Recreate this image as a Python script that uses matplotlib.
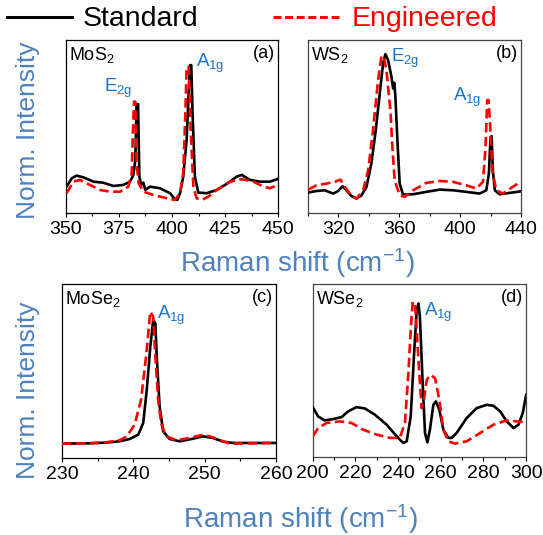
import matplotlib
matplotlib.use("Agg")
import matplotlib.pyplot as plt
from matplotlib.lines import Line2D

plt.rcParams['font.family'] = ['Liberation Sans', 'DejaVu Sans']
plt.rcParams['mathtext.fontset'] = 'custom'
plt.rcParams['mathtext.rm'] = 'Liberation Sans'
plt.rcParams['mathtext.it'] = 'Liberation Sans'

# (a) MoS2
mos2_x_std = [350.3, 352.7, 355.0, 358.2, 362.9, 367.6, 372.3, 377.0, 380.2, 381.8, 382.7, 383.3,
              384.0, 384.6, 385.5, 386.5, 387.4, 389.6, 394.3, 399.1, 401.4, 402.5, 403.8, 405.3,
              406.9, 407.9, 408.5, 409.1, 409.7, 410.8, 412.4, 416.4, 421.1, 425.8, 430.5, 432.9,
              436.8, 441.5, 446.2, 450.0]
mos2_y_std = [0.152, 0.200, 0.216, 0.206, 0.181, 0.175, 0.156, 0.162, 0.181, 0.220, 0.306, 0.630,
              0.630, 0.210, 0.162, 0.175, 0.133, 0.152, 0.143, 0.114, 0.079, 0.075, 0.114, 0.210,
              0.422, 0.711, 0.855, 0.855, 0.576, 0.210, 0.118, 0.114, 0.133, 0.168, 0.210, 0.220,
              0.191, 0.181, 0.181, 0.197]
mos2_x_eng = [350.3, 353.5, 356.6, 361.3, 366.0, 370.8, 375.5, 379.4, 381.0, 381.6, 382.1, 382.7,
              383.3, 384.3, 386.5, 391.2, 397.5, 401.4, 403.8, 405.3, 406.3, 406.9, 407.9, 408.8,
              410.1, 411.6, 414.0, 417.1, 421.1, 427.4, 432.9, 438.4, 443.1, 446.2, 450.0]
mos2_y_eng = [0.114, 0.181, 0.191, 0.162, 0.133, 0.123, 0.123, 0.152, 0.229, 0.480, 0.644, 0.644,
              0.287, 0.171, 0.123, 0.104, 0.085, 0.075, 0.114, 0.229, 0.576, 0.846, 0.846, 0.480,
              0.152, 0.085, 0.075, 0.094, 0.133, 0.181, 0.195, 0.181, 0.152, 0.143, 0.162]

# (b) WS2
ws2_x_std = [300.2, 305.7, 311.1, 316.6, 319.9, 322.7, 325.4, 328.6, 331.9, 335.2, 338.5, 341.7,
             344.6, 347.2, 349.4, 350.9, 352.7, 354.9, 356.0, 356.8, 357.5, 358.8, 360.3, 362.5,
             369.1, 377.8, 386.6, 395.3, 404.0, 412.8, 417.2, 418.9, 420.0, 420.7, 421.5, 422.8,
             425.9, 432.5, 439.8]
ws2_y_std = [0.118, 0.127, 0.131, 0.112, 0.127, 0.154, 0.131, 0.098, 0.083, 0.102, 0.151, 0.286,
             0.479, 0.691, 0.865, 0.919, 0.884, 0.788, 0.720, 0.753, 0.672, 0.421, 0.170, 0.106,
             0.108, 0.122, 0.135, 0.131, 0.122, 0.112, 0.131, 0.228, 0.440, 0.444, 0.247, 0.131,
             0.108, 0.116, 0.125]
ws2_x_eng = [300.2, 305.7, 312.2, 317.7, 321.4, 324.3, 328.6, 331.9, 336.3, 339.6, 342.8, 346.1,
             348.3, 349.8, 351.6, 353.3, 354.2, 355.5, 357.0, 360.3, 363.6, 369.1, 377.8, 386.6,
             395.3, 404.0, 410.6, 415.0, 416.7, 417.8, 418.7, 419.8, 421.1, 423.7, 428.1, 434.6,
             439.8]
ws2_y_eng = [0.135, 0.160, 0.170, 0.180, 0.193, 0.151, 0.098, 0.083, 0.131, 0.247, 0.479, 0.768,
             0.907, 0.907, 0.826, 0.672, 0.595, 0.382, 0.189, 0.102, 0.093, 0.131, 0.174, 0.185,
             0.180, 0.160, 0.141, 0.180, 0.382, 0.653, 0.653, 0.498, 0.247, 0.131, 0.112, 0.151,
             0.180]

# (c) MoSe2
mose2_x_std = [230.0, 233.9, 236.2, 238.1, 239.5, 240.7, 241.4, 241.9, 242.4, 242.8, 243.1, 243.3,
               243.7, 244.2, 245.1, 246.5, 248.4, 249.8, 251.2, 252.6, 254.0, 257.3, 260.0]
mose2_y_std = [0.087, 0.089, 0.093, 0.101, 0.115, 0.141, 0.212, 0.413, 0.675, 0.837, 0.817, 0.615,
               0.313, 0.161, 0.115, 0.101, 0.117, 0.131, 0.121, 0.099, 0.091, 0.091, 0.091]
mose2_x_eng = [230.0, 233.9, 236.2, 238.1, 239.1, 240.2, 241.1, 241.8, 242.4, 242.8, 243.1, 243.5,
               243.9, 244.6, 246.1, 247.9, 249.8, 251.2, 252.6, 253.5, 257.3, 260.0]
mose2_y_eng = [0.087, 0.089, 0.095, 0.107, 0.131, 0.202, 0.353, 0.615, 0.887, 0.857, 0.615, 0.353,
               0.212, 0.131, 0.107, 0.121, 0.141, 0.125, 0.101, 0.087, 0.089, 0.091]

# (d) WSe2
wse2_x_std = [200.0, 202.5, 205.6, 209.5, 213.5, 216.6, 220.5, 224.4, 229.1, 234.6, 239.3, 242.4,
              244.0, 245.9, 247.4, 248.7, 249.5, 250.2, 251.5, 252.6, 253.7, 254.9, 256.5, 257.7,
              259.3, 261.2, 263.5, 265.1, 267.4, 272.1, 276.8, 281.5, 284.7, 287.8, 290.9, 294.1,
              296.4, 298.4, 300.0]
wse2_y_std = [0.304, 0.247, 0.223, 0.231, 0.243, 0.278, 0.304, 0.296, 0.258, 0.197, 0.126, 0.085,
              0.095, 0.247, 0.613, 0.897, 0.937, 0.856, 0.450, 0.146, 0.089, 0.166, 0.318, 0.339,
              0.288, 0.166, 0.116, 0.116, 0.146, 0.237, 0.298, 0.318, 0.312, 0.278, 0.217, 0.176,
              0.197, 0.268, 0.379]
wse2_x_eng = [200.0, 202.5, 206.4, 212.7, 218.2, 223.6, 229.9, 236.2, 240.8, 243.2, 244.8, 245.9,
              246.8, 247.9, 248.7, 249.9, 251.0, 252.1, 253.4, 255.2, 257.3, 259.3, 261.2, 263.5,
              266.7, 272.1, 278.4, 284.7, 290.9, 295.6, 300.0]
wse2_y_eng = [0.126, 0.176, 0.207, 0.217, 0.207, 0.166, 0.136, 0.116, 0.116, 0.207, 0.511, 0.775,
              0.947, 0.937, 0.775, 0.511, 0.298, 0.349, 0.471, 0.501, 0.481, 0.349, 0.166, 0.095,
              0.081, 0.095, 0.146, 0.197, 0.223, 0.217, 0.211]

blue = '#1b74c5'
label_blue = '#4f81bd'

fig = plt.figure(figsize=(5.43, 5.35), dpi=100)

panels = [
    dict(rect=[0.1215, 0.602, 0.3905, 0.323], xs=mos2_x_std, ys=mos2_y_std, xe=mos2_x_eng, ye=mos2_y_eng,
         xlim=(350, 450), ylim=(0, 1.0), major=25, minor=12.5, name='MoS$_2$', tag='(a)', edge='black',
         peaks=[('E$_{2g}$', 0.180, 0.655), ('A$_{1g}$', 0.615, 0.80)]),
    dict(rect=[0.567, 0.602, 0.3925, 0.323], xs=ws2_x_std, ys=ws2_y_std, xe=ws2_x_eng, ye=ws2_y_eng,
         xlim=(300, 440), ylim=(0, 1.0), major=40, minor=20, name='WS$_2$', tag='(b)', edge='#444444',
         peaks=[('E$_{2g}$', 0.392, 0.825), ('A$_{1g}$', 0.680, 0.60)]),
    dict(rect=[0.114, 0.144, 0.394, 0.325], xs=mose2_x_std, ys=mose2_y_std, xe=mose2_x_eng, ye=mose2_y_eng,
         xlim=(230, 260), ylim=(0, 1.054), major=10, minor=5, name='MoSe$_2$', tag='(c)', edge='black',
         peaks=[('A$_{1g}$', 0.444, 0.755)]),
    dict(rect=[0.576, 0.146, 0.393, 0.324], xs=wse2_x_std, ys=wse2_y_std, xe=wse2_x_eng, ye=wse2_y_eng,
         xlim=(200, 300), ylim=(0, 1.059), major=20, minor=10, name='WSe$_2$', tag='(d)', edge='#444444',
         peaks=[('A$_{1g}$', 0.52, 0.765)]),
]

for p in panels:
    ax = fig.add_axes(p['rect'])
    ax.plot(p['xs'], p['ys'], color='black', lw=1.9, zorder=3)
    ax.plot(p['xe'], p['ye'], color='#ff0000', lw=1.9, ls=(0, (3.6, 1.7)), zorder=4)
    ax.set_xlim(*p['xlim'])
    ax.set_ylim(*p['ylim'])
    ax.set_yticks([])
    lo, hi = p['xlim']
    majors = list(range(lo, hi + 1, p['major']))
    if p['tag'] == '(b)':
        majors = [320, 360, 400, 440]
    ax.set_xticks(majors)
    minors = []
    v = lo
    while v <= hi:
        if v not in majors:
            minors.append(v)
        v += p['minor']
    ax.set_xticks(minors, minor=True)
    ax.tick_params(axis='x', which='major', direction='out', length=3, width=0.8, labelsize=14, pad=3)
    ax.tick_params(axis='x', which='minor', direction='out', length=2, width=0.8)
    for s in ax.spines.values():
        s.set_color(p['edge'])
        s.set_linewidth(0.9)
    ax.text(0.015, 0.97, p['name'], transform=ax.transAxes, fontsize=13, va='top', ha='left')
    ax.text(0.985, 0.97, p['tag'], transform=ax.transAxes, fontsize=13, va='top', ha='right')
    for lab, tx, ty in p['peaks']:
        ax.text(tx, ty, lab, transform=ax.transAxes, fontsize=13.5, color=blue, va='bottom', ha='left')

# shared axis labels
for y in (0.757, 0.27):
    fig.text(0.052, y, 'Norm. Intensity', rotation=90, fontsize=19, color=label_blue, ha='center', va='center')
fig.text(0.548, 0.508, 'Raman shift (cm$^{-1}$)', fontsize=20, color=label_blue, ha='center', va='center')
fig.text(0.553, 0.030, 'Raman shift (cm$^{-1}$)', fontsize=20, color=label_blue, ha='center', va='center')

# legend on top
fig.add_artist(Line2D([0.013, 0.133], [0.968, 0.968], color='black', lw=2.2, transform=fig.transFigure))
fig.text(0.152, 0.964, 'Standard', fontsize=20.5, color='black', ha='left', va='center')
fig.add_artist(Line2D([0.503, 0.630], [0.968, 0.968], color='#ff0000', lw=2.2, ls=(0, (2.6, 1.2)),
                      transform=fig.transFigure))
fig.text(0.648, 0.964, 'Engineered', fontsize=20.5, color='#ff0000', ha='left', va='center')

fig.savefig('out.png', dpi=100)
